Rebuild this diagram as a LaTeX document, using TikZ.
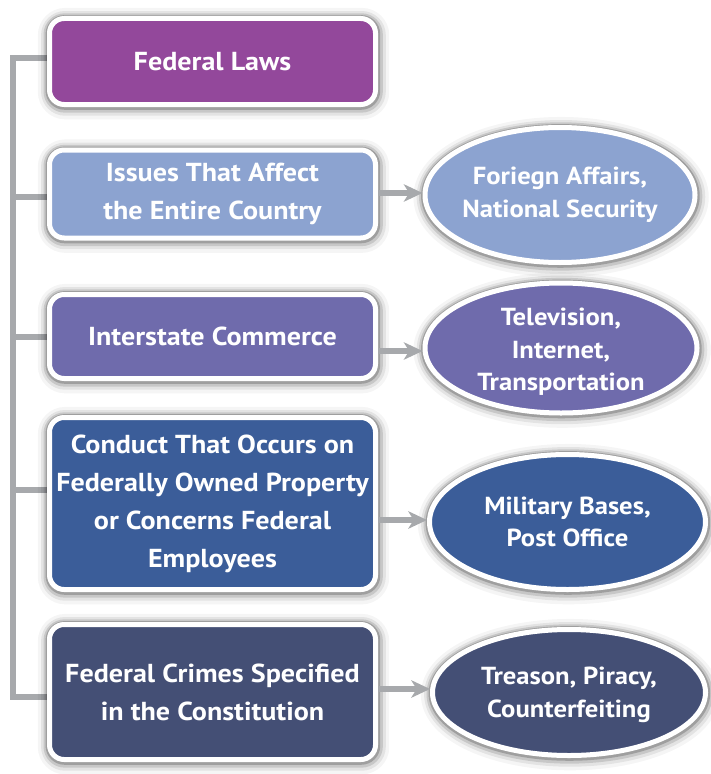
\documentclass[tikz,border=0pt]{standalone}
\usepackage{fontspec}
\setmainfont{PT Sans}[FakeStretch=1.08]
\usetikzlibrary{shapes.geometric,arrows.meta}
\definecolor{cFL}{RGB}{147,72,155}
\definecolor{cIS}{RGB}{140,163,208}
\definecolor{cIC}{RGB}{111,107,172}
\definecolor{cCO}{RGB}{59,93,153}
\definecolor{cFC}{RGB}{68,79,117}
\definecolor{lineGray}{RGB}{167,169,172}
\begin{document}
\begin{tikzpicture}[x=0.75pt,y=-0.75pt,
  halo/.style={
    preaction={draw=black,opacity=0.04,line width=19pt,transform canvas={xshift=0.8pt,yshift=-1.6pt}},
    preaction={draw=black,opacity=0.07,line width=14pt,transform canvas={xshift=0.7pt,yshift=-1.4pt}},
    preaction={draw=black,opacity=0.12,line width=10pt,transform canvas={xshift=0.5pt,yshift=-1.1pt}},
    preaction={draw=black,opacity=0.20,line width=6.5pt,transform canvas={xshift=0.3pt,yshift=-0.7pt}}},
  boxtxt/.style={text=white,font=\fontsize{19.5}{28.5}\selectfont\bfseries,align=center},
  box/.style={halo,boxtxt,draw=white,line width=3.75pt,rounded corners=11pt,inner sep=0pt,minimum width=244.5pt},
  ell/.style={halo,ellipse,draw=white,line width=3.75pt,inner sep=0pt},
  etxt/.style={text=white,font=\fontsize{18.5}{24.5}\selectfont\bfseries,align=center,inner sep=0pt},
  conn/.style={draw=lineGray,line width=4.5pt},
  arr/.style={draw=lineGray,line width=4.5pt,-{Stealth[length=14pt,width=13pt,inset=4pt]}}
]
\fill[white] (0,0) rectangle (710,774);
\useasboundingbox (0,0) rectangle (710,774);

% trunk coordinates
\coordinate (tTop) at (12.5,58);
\coordinate (tBot) at (12.5,697);
\coordinate (j2) at (12.5,197);
\coordinate (j3) at (12.5,337);
\coordinate (j4) at (12.5,490);

% anchor frames for the boxes (invisible)
\path (212.5,61.5) node[minimum height=64.5pt,inner sep=0pt,minimum width=244.5pt,outer sep=1.875pt] (a1) {}
  (212.5,194) node[minimum height=66pt,inner sep=0pt,minimum width=244.5pt,outer sep=1.875pt] (a2) {}
  (212.5,336.5) node[minimum height=63pt,inner sep=0pt,minimum width=244.5pt,outer sep=1.875pt] (a3) {}
  (212.5,503.5) node[minimum height=129pt,inner sep=0pt,minimum width=244.5pt,outer sep=1.875pt] (a4) {}
  (212.5,692) node[minimum height=101.25pt,inner sep=0pt,minimum width=244.5pt,outer sep=1.875pt] (a5) {};

% connectors
\draw[conn] (a1.west|-tTop) -- (tTop) -- (tBot) -- (a5.west|-tBot);
\draw[conn] (j2) -- (a2.west|-j2);
\draw[conn] (j3) -- (a3.west|-j3);
\draw[conn] (j4) -- (a4.west|-j4);

% boxes
\node[box,fill=cFL,minimum height=64.5pt] (b1) at (a1) {Federal Laws};
\node[box,fill=cIS,minimum height=66pt] (b2) at (a2) {Issues That Affect\\the Entire Country};
\node[box,fill=cIC,minimum height=63pt] (b3) at (a3) {Interstate Commerce};
\node[box,fill=cCO,minimum height=129pt] (b4) at (a4) {Conduct That Occurs on\\Federally Owned Property\\or Concerns Federal\\Employees};
\node[box,fill=cFC,minimum height=101.25pt] (b5) at (a5) {Federal Crimes Specified\\in the Constitution};

% ellipses
\node[ell,fill=cIS,minimum width=202.5pt,minimum height=101.25pt] (e1) at (560,195) {};
\node[etxt] (t1) at (e1) {Foriegn Affairs,\\National Security};
\node[ell,fill=cIC,minimum width=204pt,minimum height=97.5pt] (e2) at (561,348) {};
\node[etxt] (t2) at ([yshift=-3pt]e2.center) {Television,\\Internet,\\Transportation};
\node[ell,fill=cCO,minimum width=207pt,minimum height=101.25pt] (e3) at (567.5,522) {};
\node[etxt] (t3) at (e3) {Military Bases,\\Post Office};
\node[ell,fill=cFC,minimum width=204.75pt,minimum height=94.5pt] (e4) at (569,692.5) {};
\node[etxt] (t4) at ([yshift=-2pt]e4.center) {Treason, Piracy,\\Counterfeiting};

% arrows
\coordinate (y1) at (0,193);
\coordinate (y2) at (0,351);
\coordinate (y3) at (0,520);
\coordinate (y4) at (0,689);
\draw[arr] (b2.east|-y1) -- (e1.west|-y1);
\draw[arr] (b3.east|-y2) -- (e2.west|-y2);
\draw[arr] (b4.east|-y3) -- (e3.west|-y3);
\draw[arr] (b5.east|-y4) -- (e4.west|-y4);
\end{tikzpicture}
\end{document}
